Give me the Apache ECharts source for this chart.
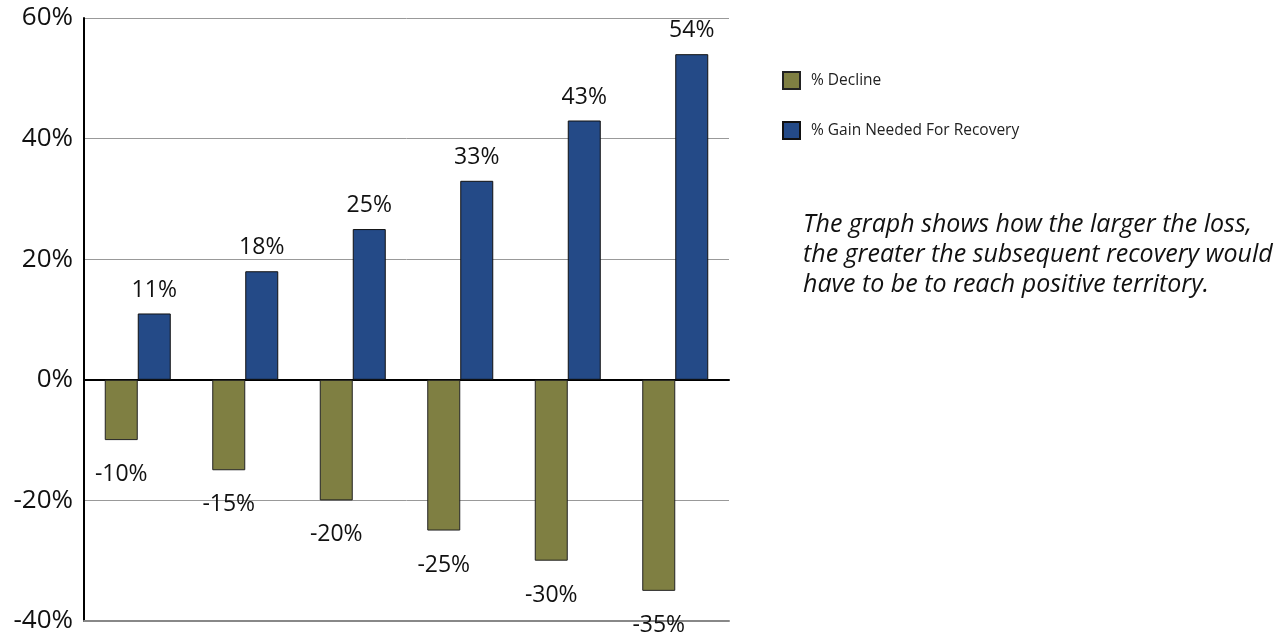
<!DOCTYPE html>
<html>
<head>
<meta charset="utf-8">
<script src="https://cdn.jsdelivr.net/npm/echarts@6/dist/echarts.min.js"></script>
<style>html,body{margin:0;padding:0;background:#fff}#c{width:1277px;height:641px}</style>
</head>
<body>
<div id="c"></div>
<script>
const categories = ['A', 'B', 'C', 'D', 'E', 'F'];
const declineValues = [-10, -15, -20, -25, -30, -35];
const gainValues = [11, 18, 25, 33, 43, 54];
const seriesNames = ['% Decline', '% Gain Needed For Recovery'];
const note = 'The graph shows how the larger the loss,\nthe greater the subsequent recovery would\nhave to be to reach positive territory.';

const FONT = '"Open Sans", sans-serif';
const chart = echarts.init(document.getElementById('c'));
chart.setOption({
  animation: false,
  textStyle: { fontFamily: FONT },
  grid: { left: 84, right: 548, top: 18, bottom: 20, containLabel: false },
  legend: {
    orient: 'vertical', left: 777, top: 66,
    itemWidth: 17, itemHeight: 17, itemGap: 31,
    icon: 'rect',
    textStyle: { fontSize: 15.5, color: '#222', fontFamily: FONT, padding: [0, 0, 0, 6] },
    data: seriesNames
  },
  xAxis: [
    { type: 'category', data: categories,
      axisLine: { onZero: true, lineStyle: { color: '#000', width: 2 } },
      axisTick: { show: false }, axisLabel: { show: false }, splitLine: { show: false } },
    { type: 'category', data: categories, position: 'bottom',
      axisLine: { onZero: false, lineStyle: { color: '#888', width: 2 } },
      axisTick: { show: false }, axisLabel: { show: false }, splitLine: { show: false } }
  ],
  yAxis: {
    type: 'value', min: -40, max: 60, interval: 20,
    axisLine: { show: true, lineStyle: { color: '#000', width: 2 } },
    axisTick: { show: false },
    axisLabel: { formatter: '{value}%', fontSize: 26, color: '#111', margin: 11, fontFamily: FONT },
    splitLine: { show: true, lineStyle: { color: '#999', width: 1 } }
  },
  series: [
    { name: seriesNames[0], type: 'bar', data: declineValues, barWidth: 33, barGap: '0%',
      itemStyle: { color: '#7f7f42', borderColor: '#222', borderWidth: 1 },
      label: { show: true, position: 'bottom', distance: 23, formatter: '{c}%', fontSize: 23, color: '#111', fontFamily: FONT } },
    { name: seriesNames[1], type: 'bar', data: gainValues, barWidth: 33,
      itemStyle: { color: '#244a87', borderColor: '#111', borderWidth: 1 },
      label: { show: true, position: 'top', distance: 12, formatter: '{c}%', fontSize: 23, color: '#111', fontFamily: FONT } }
  ],
  graphic: [{
    type: 'text', left: 803, top: 210,
    style: { text: note, font: 'italic 25px ' + FONT, lineHeight: 30, fill: '#111' }
  }]
});
</script>
</body>
</html>
